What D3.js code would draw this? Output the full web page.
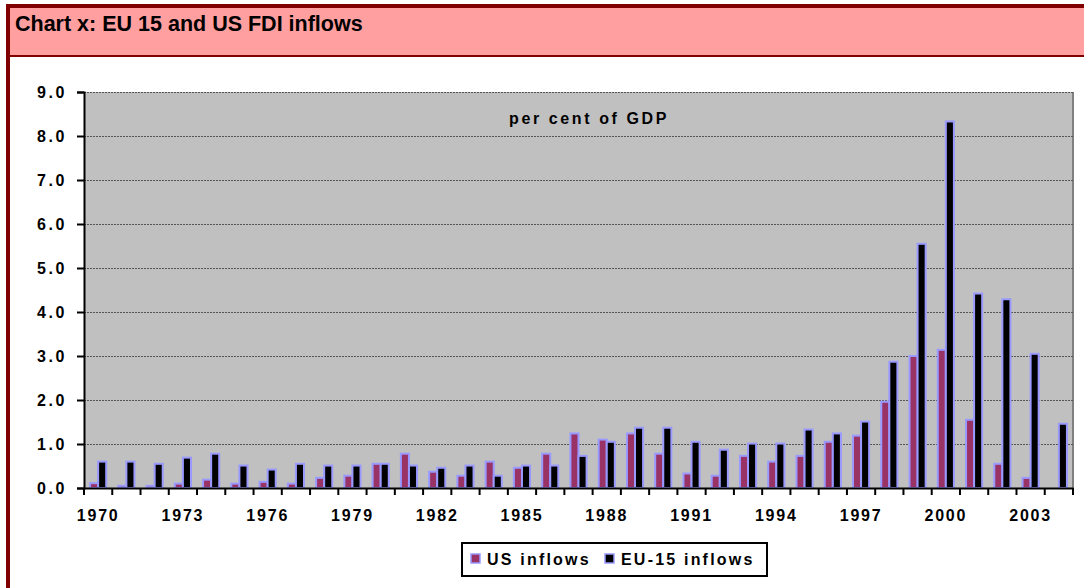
<!DOCTYPE html>
<html>
<head>
<meta charset="utf-8">
<script src="https://cdn.jsdelivr.net/npm/d3@7"></script>
<style>
  body { margin: 0; background: #fff; }
  text { font-family: "Liberation Sans", Arial, sans-serif; font-weight: bold; }
</style>
</head>
<body>
<div id="chart-container"></div>
<script>
// data (per cent of GDP)
const years = [1970, 1971, 1972, 1973, 1974, 1975, 1976, 1977, 1978, 1979,
               1980, 1981, 1982, 1983, 1984, 1985, 1986, 1987, 1988, 1989,
               1990, 1991, 1992, 1993, 1994, 1995, 1996, 1997, 1998, 1999,
               2000, 2001, 2002, 2003, 2004];
const usInflows = [0.11, 0.05, 0.05, 0.10, 0.19, 0.10, 0.14, 0.10, 0.23, 0.28,
                   0.55, 0.78, 0.37, 0.28, 0.60, 0.46, 0.78, 1.24, 1.10, 1.24,
                   0.78, 0.33, 0.28, 0.73, 0.60, 0.73, 1.05, 1.19, 1.96, 3.00,
                   3.14, 1.55, 0.55, 0.23, null];
const euInflows = [0.60, 0.60, 0.55, 0.69, 0.78, 0.51, 0.42, 0.55, 0.51, 0.51,
                   0.55, 0.51, 0.46, 0.51, 0.28, 0.51, 0.51, 0.73, 1.05, 1.37,
                   1.37, 1.05, 0.87, 1.01, 1.01, 1.33, 1.24, 1.51, 2.87, 5.55,
                   8.33, 4.42, 4.29, 3.05, 1.46];
const labelYears = [1970, 1973, 1976, 1979, 1982, 1985, 1988, 1991, 1994, 1997, 2000, 2003];
const yTicks = [0, 1, 2, 3, 4, 5, 6, 7, 8, 9];
const seriesNames = ["US inflows", "EU-15 inflows"];

const W = 1084, H = 588;
const plot = { left: 84, right: 1073, top: 92, bottom: 488 };

const svg = d3.select("#chart-container")
    .append("svg")
    .attr("width", W)
    .attr("height", H);

// frame + pink header
svg.append("rect")
    .attr("x", 8).attr("y", 6)
    .attr("width", W + 10).attr("height", H + 10)
    .attr("fill", "#fff")
    .attr("stroke", "#800000")
    .attr("stroke-width", 4);

svg.append("rect")
    .attr("x", 10).attr("y", 8)
    .attr("width", W).attr("height", 47)
    .attr("fill", "#FF9F9F");

svg.append("line")
    .attr("x1", 8).attr("x2", W)
    .attr("y1", 56).attr("y2", 56)
    .attr("stroke", "#800000")
    .attr("stroke-width", 2);

svg.append("text")
    .attr("x", 15)
    .attr("y", 31)
    .style("font-size", "21.5px")
    .text("Chart x: EU 15 and US FDI inflows");

// scales
const x = d3.scaleBand()
    .domain(years)
    .range([plot.left, plot.right]);

const y = d3.scaleLinear()
    .domain([0, 9])
    .range([plot.bottom, plot.top]);

// plot background
svg.append("rect")
    .attr("x", plot.left)
    .attr("y", plot.top)
    .attr("width", plot.right - plot.left)
    .attr("height", plot.bottom - plot.top)
    .attr("fill", "#C0C0C0");

svg.append("line")
    .attr("x1", plot.right).attr("x2", plot.right)
    .attr("y1", plot.top).attr("y2", plot.bottom)
    .attr("stroke", "#808080")
    .attr("stroke-width", 2);

// gridlines
svg.append("g")
    .selectAll("line")
    .data(yTicks.filter(d => d > 0))
    .join("line")
    .attr("x1", plot.left).attr("x2", plot.right)
    .attr("y1", d => y(d) + 0.5).attr("y2", d => y(d) + 0.5)
    .attr("stroke", "#555")
    .attr("stroke-width", 1)
    .attr("stroke-dasharray", "2,1");

svg.append("text")
    .attr("x", 589)
    .attr("y", 124)
    .attr("text-anchor", "middle")
    .style("font-size", "16px")
    .style("letter-spacing", "2.6px")
    .text("per cent of GDP");

// bars: pair of width 2w in a band, gap 1.5w
const barW = x.bandwidth() / 3.5;
const pairOffset = (x.bandwidth() - 2 * barW) / 2;
const barStroke = "#9999FF";

svg.append("g")
    .selectAll("rect")
    .data(years.map((yr, i) => ({ yr, v: usInflows[i] })).filter(d => d.v !== null))
    .join("rect")
    .attr("x", d => x(d.yr) + pairOffset)
    .attr("y", d => y(d.v))
    .attr("width", barW)
    .attr("height", d => y(0) - y(d.v))
    .attr("fill", "#993366")
    .attr("stroke", barStroke)
    .attr("stroke-width", 2);

svg.append("g")
    .selectAll("rect")
    .data(years.map((yr, i) => ({ yr, v: euInflows[i] })))
    .join("rect")
    .attr("x", d => x(d.yr) + pairOffset + barW)
    .attr("y", d => y(d.v))
    .attr("width", barW)
    .attr("height", d => y(0) - y(d.v))
    .attr("fill", "#000")
    .attr("stroke", barStroke)
    .attr("stroke-width", 2);

// y axis
const yAxis = svg.append("g")
    .attr("transform", `translate(${plot.left},0)`)
    .call(d3.axisLeft(y)
        .tickValues(yTicks)
        .tickFormat(d3.format(".1f"))
        .tickSize(7)
        .tickPadding(10));
yAxis.select(".domain").attr("stroke", "#000").attr("stroke-width", 2);
yAxis.selectAll(".tick line").attr("stroke", "#000").attr("stroke-width", 2);
yAxis.selectAll(".tick text")
    .style("font-size", "16px")
    .style("letter-spacing", "2.6px")
    .attr("fill", "#000");

// x axis: labels every third year, ticks at band edges
const xAxis = svg.append("g")
    .attr("transform", `translate(0,${plot.bottom})`)
    .call(d3.axisBottom(x)
        .tickValues(labelYears)
        .tickSize(0)
        .tickPadding(22));
xAxis.select(".domain").attr("stroke", "#000").attr("stroke-width", 2);
xAxis.selectAll(".tick text")
    .style("font-size", "16px")
    .style("letter-spacing", "1.8px")
    .attr("fill", "#000");

svg.append("g")
    .selectAll("line")
    .data(years.map(yr => x(yr)).concat([plot.right]))
    .join("line")
    .attr("x1", d => d).attr("x2", d => d)
    .attr("y1", plot.bottom).attr("y2", plot.bottom + 7)
    .attr("stroke", "#000")
    .attr("stroke-width", 2);

// legend
const legend = svg.append("g").attr("transform", "translate(462,543)");
legend.append("rect")
    .attr("width", 305).attr("height", 33)
    .attr("fill", "#fff")
    .attr("stroke", "#000")
    .attr("stroke-width", 2);

const legendItems = [
    { name: seriesNames[0], fill: "#993366", x: 9, tx: 25 },
    { name: seriesNames[1], fill: "#000", x: 143, tx: 159 }
];
legendItems.forEach(item => {
    legend.append("rect")
        .attr("x", item.x).attr("y", 11)
        .attr("width", 9).attr("height", 9)
        .attr("fill", item.fill)
        .attr("stroke", barStroke)
        .attr("stroke-width", 1.5);
    legend.append("text")
        .attr("x", item.tx)
        .attr("y", 22)
        .style("font-size", "16px")
        .style("letter-spacing", "2.2px")
        .text(item.name);
});
</script>
</body>
</html>
